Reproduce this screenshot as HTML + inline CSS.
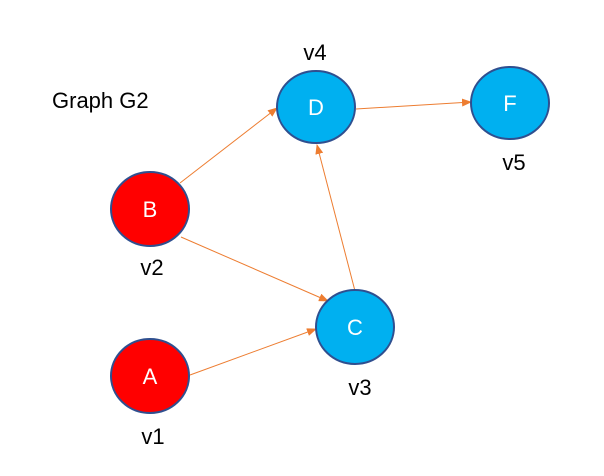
<!DOCTYPE html>
<html><head><meta charset="utf-8"><style>body{margin:0;background:#fff}</style></head><body>
<svg width="604" height="471" xmlns="http://www.w3.org/2000/svg" font-family="Liberation Sans, DejaVu Sans, sans-serif">
<defs><marker id="a" markerWidth="10" markerHeight="8" refX="9" refY="4" orient="auto" markerUnits="userSpaceOnUse"><path d="M0,0 L10,4 L0,8z" fill="#ED7D31"/></marker></defs>
<g stroke="#ED7D31" stroke-width="1" marker-end="url(#a)">
<line x1="180" y1="183" x2="277" y2="108"/>
<line x1="181" y1="237" x2="328" y2="301"/>
<line x1="190" y1="375" x2="316" y2="329"/>
<line x1="355" y1="291" x2="317" y2="145"/>
<line x1="356" y1="109" x2="471" y2="102"/>
</g>
<g stroke="#2F4F8F" stroke-width="2">
<ellipse cx="316" cy="107" rx="39" ry="36" fill="#00B0F0"/>
<ellipse cx="510" cy="103" rx="39" ry="36" fill="#00B0F0"/>
<ellipse cx="355" cy="327" rx="39" ry="37" fill="#00B0F0"/>
<ellipse cx="150" cy="209" rx="39" ry="37" fill="#FF0000"/>
<ellipse cx="150" cy="376" rx="39" ry="37" fill="#FF0000"/>
</g>
<g fill="#fff" font-size="22" text-anchor="middle">
<text x="316" y="115">D</text><text x="510" y="111">F</text><text x="355" y="335">C</text>
<text x="150" y="217">B</text><text x="150" y="384">A</text>
</g>
<g fill="#000" font-size="22" text-anchor="middle">
<text x="315" y="60">v4</text><text x="514" y="170">v5</text><text x="152" y="275">v2</text>
<text x="360" y="395">v3</text><text x="153" y="444">v1</text>
<text x="52" y="108" text-anchor="start">Graph G2</text>
</g>
</svg>
</body></html>
